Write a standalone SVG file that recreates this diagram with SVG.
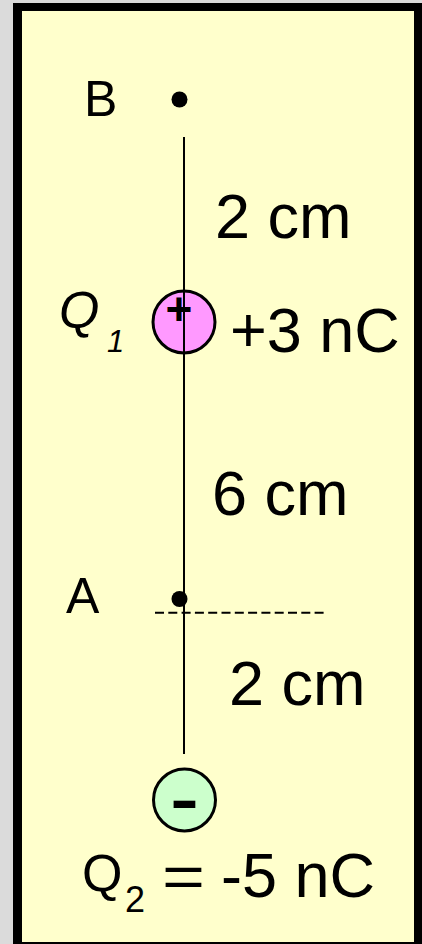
<svg xmlns="http://www.w3.org/2000/svg" width="422" height="944" viewBox="0 0 422 944">
<style>
.t{font-family:"Liberation Sans",Arial,sans-serif;fill:#000}
.it{font-style:italic}
.b{font-weight:bold}
.big{font-size:63px}
.dot{fill:#000}
.chg{stroke:#000;stroke-width:3}
</style>
<g id="frame">
<rect x="0" y="0" width="422" height="944" fill="#DBDBDB"/>
<rect x="13" y="3" width="409" height="941" fill="#000"/>
<rect x="22" y="11" width="392" height="931" fill="#FFFFCC"/>
</g>
<g id="charge-q1">
<circle class="chg" cx="184" cy="322" r="31" fill="#FF99FF"/>
<text class="t b" x="179" y="325" font-size="46" text-anchor="middle">+</text>
</g>
<g id="charge-q2">
<circle class="chg" cx="184.5" cy="800" r="31" fill="#CCFFCC"/>
<text class="t b" x="184.5" y="820" font-size="62" text-anchor="middle" textLength="28.5" lengthAdjust="spacingAndGlyphs">-</text>
</g>
<g id="connectors">
<line x1="184" y1="137" x2="184" y2="754" stroke="#000" stroke-width="2"/>
<line x1="155" y1="612.7" x2="324" y2="612.7" stroke="#000" stroke-width="2" stroke-dasharray="9 4.3"/>
</g>
<g id="point-b">
<circle class="dot" cx="179.5" cy="99.5" r="8"/>
<text class="t" x="84" y="116" font-size="50">B</text>
</g>
<g id="point-a">
<circle class="dot" cx="179.5" cy="599" r="8"/>
<text class="t" x="66" y="613" font-size="50">A</text>
</g>
<g id="labels">
<text class="t big" x="215" y="238">2 cm</text>
<text class="t it" x="59" y="328" font-size="52">Q</text>
<text class="t it" x="107" y="352" font-size="31">1</text>
<text class="t big" x="230" y="352">+3 nC</text>
<text class="t big" x="212" y="515">6 cm</text>
<text class="t big" x="229" y="705">2 cm</text>
<text class="t" x="82" y="891" font-size="52">Q</text>
<text class="t" x="125" y="912" font-size="36">2</text>
<text class="t" x="162" y="897" font-size="60" textLength="43" lengthAdjust="spacingAndGlyphs">=</text>
<text class="t big" x="221" y="897">-5 nC</text>
</g>
</svg>
